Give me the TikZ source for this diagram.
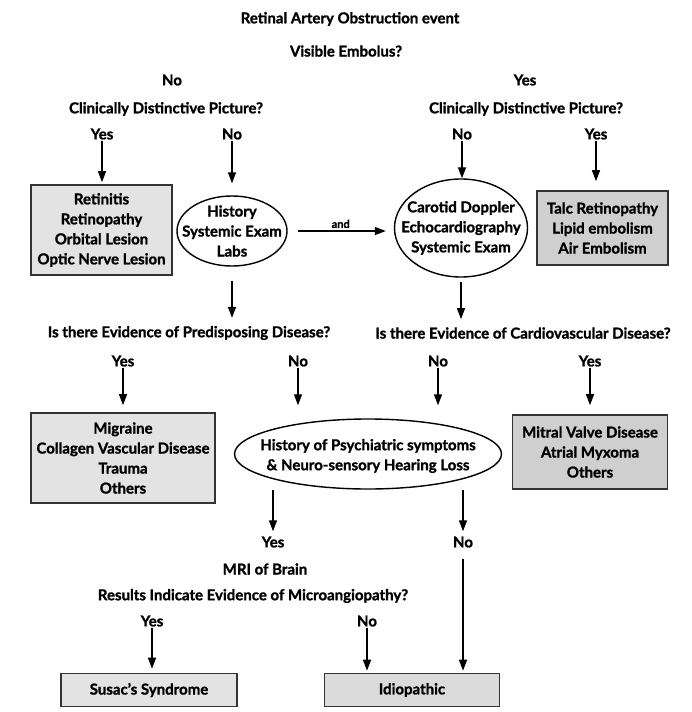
\documentclass[tikz,border=0pt]{standalone}
\usepackage{fontspec}
\setmainfont{Lato}[BoldFeatures={FakeBold=1.3}]
\usetikzlibrary{shapes.geometric,arrows.meta}
\begin{document}
\begin{tikzpicture}[x=1pt,y=-1pt,
  lbl/.style={font=\bfseries\fontsize{15}{20}\selectfont, inner sep=1pt, align=center},
  gbox/.style={draw=black!80, line width=1.6pt, fill=gray!22, align=center,
    font=\bfseries\fontsize{15}{20}\selectfont, inner sep=0pt},
  dbox/.style={gbox, fill=gray!38},
  ell/.style={draw=black, line width=1.4pt, ellipse, inner sep=0pt},
  arr/.style={-{Triangle[width=8pt,length=11pt]}, line width=1.3pt}]
\useasboundingbox (0,0) rectangle (691,712);

% top labels
\node[lbl] (title) at (350,19) {Retinal Artery Obstruction event};
\node[lbl] (vis) at (346,51) {Visible Embolus?};
\node[lbl] (no0) at (172,80) {No};
\node[lbl] (yes0) at (525,80) {Yes};
\node[lbl] (cdpL) at (166,109) {Clinically Distinctive Picture?};
\node[lbl] (cdpR) at (526,109) {Clinically Distinctive Picture?};
\node[lbl] (yesL) at (102,134) {Yes};
\node[lbl] (noL) at (232,134) {No};
\node[lbl] (noR) at (462,134) {No};
\node[lbl] (yesR) at (596,134) {Yes};

% second row
\node[gbox, minimum width=141pt, minimum height=90pt] (retin) at (101.5,230)
  {Retinitis\\Retinopathy\\Orbital Lesion\\Optic Nerve Lesion};
\node[ell, minimum width=110pt, minimum height=70pt] (hist) at (232,231) {};
\node[lbl] (histT) at (hist) {History\\Systemic Exam\\Labs};
\node[ell, minimum width=133pt, minimum height=98pt] (car) at (461,228) {};
\node[lbl] (carT) at (car) {Carotid Doppler\\Echocardiography\\Systemic Exam};
\node[dbox, minimum width=131pt, minimum height=74pt] (talc) at (602.5,228)
  {Talc Retinopathy\\Lipid embolism\\Air Embolism};

\draw[arr, shorten >=2pt] (yesL) -- (yesL |- retin.north);
\draw[arr, shorten >=12pt] (noL) -- (noL |- hist.north);
\draw[arr, shorten >=0pt] (noR) -- (noR |- car.north);
\draw[arr, shorten >=9pt] (yesR) -- (yesR |- talc.north);
\draw[arr, shorten <=10pt, shorten >=8pt] (hist.east) -- (hist.east -| car.west)
  node[midway, above=-1pt, font=\bfseries\fontsize{11}{12}\selectfont] (andL) {and};

% questions
\node[lbl] (q1) at (189,333) {Is there Evidence of Predisposing Disease?};
\node[lbl] (q2) at (523,333) {Is there Evidence of Cardiovascular Disease?};
\draw[arr, shorten <=14pt, shorten >=7pt] (hist.south) -- (hist.south |- q1.north);
\draw[arr, shorten <=4pt, shorten >=7pt] (car.south) -- (car.south |- q2.north);

\node[lbl] (yesP) at (123,361) {Yes};
\node[lbl] (noP) at (298,361) {No};
\node[lbl] (noC) at (438,361) {No};
\node[lbl] (yesC) at (590,361) {Yes};

\node[gbox, minimum width=184pt, minimum height=90pt] (mig) at (123,458)
  {Migraine\\Collagen Vascular Disease\\Trauma\\Others};
\node[ell, minimum width=267pt, minimum height=70pt] (psy) at (368,454) {};
\node[lbl] (psyT) at (368,456) {History of Psychiatric symptoms\\\& Neuro-sensory Hearing Loss};
\node[dbox, minimum width=155pt, minimum height=74pt] (mit) at (590,452)
  {Mitral Valve Disease\\Atrial Myxoma\\Others};

\draw[arr, shorten >=7pt] (yesP) -- (yesP |- mig.north);
\draw[arr, shorten >=13pt] (noP) -- (noP |- psy.north);
\draw[arr, shorten >=13pt] (noC) -- (noC |- psy.north);
\draw[arr, shorten >=9pt] (yesC) -- (yesC |- mit.north);

% lower part
\node[lbl] (yesS) at (273,542) {Yes};
\node[lbl] (noS) at (463,542) {No};
\draw[arr, shorten >=4pt] (yesS |- psy.south) -- (yesS.north);
\draw[arr, shorten >=4pt] (noS |- psy.south) -- (noS.north);

\node[lbl] (mri) at (265,569) {MRI of Brain};
\node[lbl] (res) at (253,596) {Results Indicate Evidence of Microangiopathy?};
\node[lbl] (yesM) at (152,621) {Yes};
\node[lbl] (noM) at (367,621) {No};

\node[gbox, minimum width=176pt, minimum height=33pt] (sus) at (149,690) {Susac’s Syndrome};
\node[gbox, minimum width=175pt, minimum height=33pt, fill=gray!28] (idio) at (412,690) {Idiopathic};

\draw[arr, shorten >=4pt] (yesM) -- (yesM |- sus.north);
\draw[arr, shorten >=2pt] (noM) -- (noM |- idio.north);
\draw[arr, shorten <=10pt, shorten >=2pt] (noS) -- (noS |- idio.north);
\end{tikzpicture}
\end{document}
